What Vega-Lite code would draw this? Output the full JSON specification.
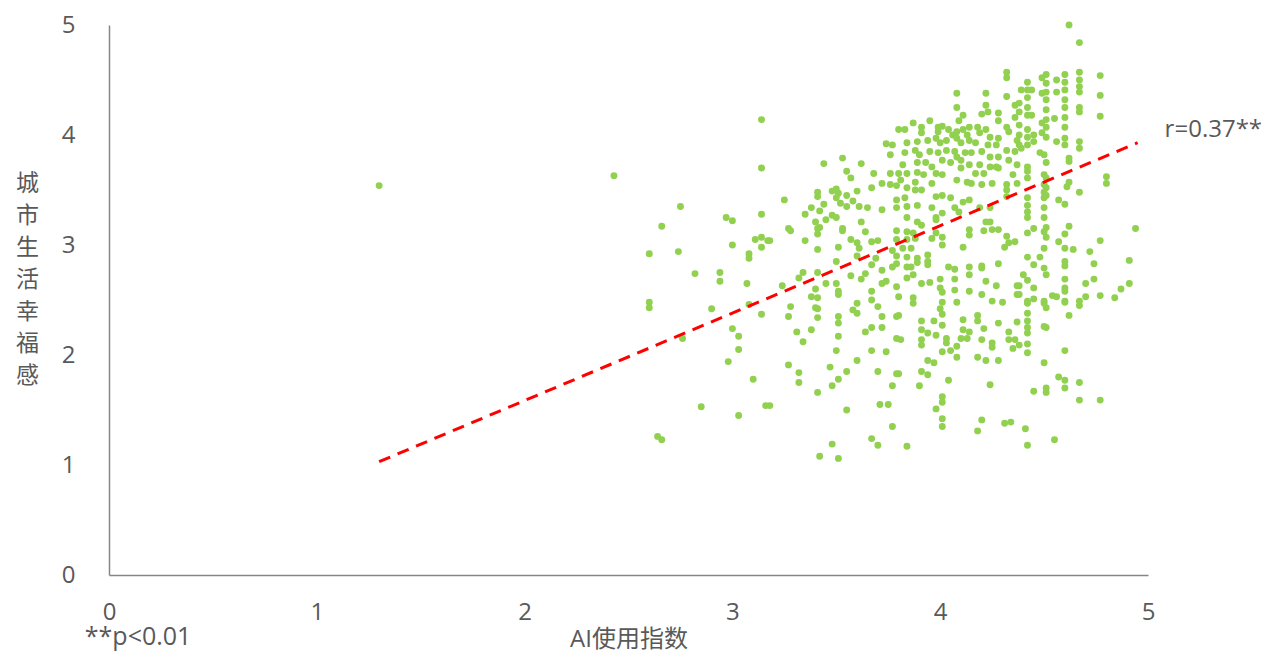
{
"$schema": "https://vega.github.io/schema/vega-lite/v6.json",
"width": 1039, "height": 550,
"autosize": "none",
"padding": {"left": 109, "top": 25, "right": 122, "bottom": 77},
"background": "white",
"config": {"view": {"stroke": null}, "font": "Open Sans, Noto Sans CJK SC"},
"datasets": {
"pts": [
{"ai":1.30,"hap":3.54},{"ai":2.43,"hap":3.63},{"ai":3.14,"hap":4.14},{"ai":3.14,"hap":3.70},{"ai":2.75,"hap":3.35},{"ai":2.66,"hap":3.17},{"ai":2.97,"hap":3.25},{"ai":3.00,"hap":3.22},{"ai":3.14,"hap":3.28},{"ai":2.60,"hap":2.92},{"ai":2.74,"hap":2.94},{"ai":3.00,"hap":3.00},{"ai":3.11,"hap":3.05},{"ai":3.14,"hap":3.07},{"ai":3.17,"hap":3.04},{"ai":3.14,"hap":2.98},{"ai":3.08,"hap":2.92},{"ai":3.08,"hap":2.88},{"ai":2.82,"hap":2.74},{"ai":2.94,"hap":2.75},{"ai":2.94,"hap":2.67},{"ai":3.07,"hap":2.65},{"ai":2.60,"hap":2.48},{"ai":2.60,"hap":2.43},{"ai":2.90,"hap":2.42},{"ai":3.08,"hap":2.46},{"ai":3.14,"hap":2.37},{"ai":3.00,"hap":2.24},{"ai":3.03,"hap":2.17},{"ai":2.76,"hap":2.15},{"ai":3.03,"hap":2.05},{"ai":2.98,"hap":1.94},{"ai":3.10,"hap":1.78},{"ai":2.85,"hap":1.53},{"ai":3.16,"hap":1.54},{"ai":3.03,"hap":1.45},{"ai":2.64,"hap":1.26},{"ai":2.66,"hap":1.23},
{"ai":3.80,"hap":4.05},{"ai":3.74,"hap":3.92},{"ai":3.77,"hap":3.91},{"ai":3.76,"hap":3.82},{"ai":3.53,"hap":3.79},{"ai":3.44,"hap":3.74},{"ai":3.62,"hap":3.74},{"ai":3.55,"hap":3.67},{"ai":3.68,"hap":3.65},{"ai":3.57,"hap":3.61},{"ai":3.76,"hap":3.65},{"ai":3.80,"hap":3.65},{"ai":3.72,"hap":3.56},{"ai":3.76,"hap":3.55},{"ai":3.79,"hap":3.54},{"ai":3.67,"hap":3.52},{"ai":3.60,"hap":3.49},{"ai":3.25,"hap":3.41},{"ai":3.41,"hap":3.48},{"ai":3.41,"hap":3.44},{"ai":3.48,"hap":3.49},{"ai":3.50,"hap":3.51},{"ai":3.51,"hap":3.47},{"ai":3.50,"hap":3.43},{"ai":3.55,"hap":3.45},{"ai":3.58,"hap":3.40},{"ai":3.52,"hap":3.38},{"ai":3.55,"hap":3.35},{"ai":3.61,"hap":3.35},{"ai":3.65,"hap":3.34},{"ai":3.72,"hap":3.32},{"ai":3.79,"hap":3.41},{"ai":3.79,"hap":3.34},{"ai":3.38,"hap":3.34},{"ai":3.35,"hap":3.28},{"ai":3.44,"hap":3.37},{"ai":3.42,"hap":3.31},{"ai":3.45,"hap":3.23},{"ai":3.48,"hap":3.27},{"ai":3.50,"hap":3.25},{"ai":3.40,"hap":3.21},{"ai":3.42,"hap":3.16},{"ai":3.27,"hap":3.15},{"ai":3.53,"hap":3.15},{"ai":3.62,"hap":3.21},
{"ai":3.28,"hap":3.13},{"ai":3.41,"hap":3.15},{"ai":3.41,"hap":3.10},{"ai":3.53,"hap":3.13},{"ai":3.64,"hap":3.12},{"ai":3.18,"hap":3.04},{"ai":3.35,"hap":3.04},{"ai":3.57,"hap":3.05},{"ai":3.60,"hap":3.02},{"ai":3.61,"hap":2.97},{"ai":3.67,"hap":3.03},{"ai":3.70,"hap":3.04},{"ai":3.79,"hap":3.13},{"ai":3.79,"hap":3.05},{"ai":3.41,"hap":2.96},{"ai":3.51,"hap":2.98},{"ai":3.60,"hap":2.90},{"ai":3.69,"hap":2.88},{"ai":3.77,"hap":2.95},{"ai":3.79,"hap":2.90},{"ai":3.50,"hap":2.85},{"ai":3.67,"hap":2.82},{"ai":3.77,"hap":2.80},{"ai":3.79,"hap":2.83},{"ai":3.72,"hap":2.77},{"ai":3.34,"hap":2.75},{"ai":3.32,"hap":2.70},{"ai":3.41,"hap":2.75},{"ai":3.57,"hap":2.72},{"ai":3.64,"hap":2.74},{"ai":3.62,"hap":2.69},{"ai":3.24,"hap":2.63},{"ai":3.45,"hap":2.65},{"ai":3.40,"hap":2.60},{"ai":3.50,"hap":2.65},{"ai":3.51,"hap":2.58},{"ai":3.51,"hap":2.55},{"ai":3.74,"hap":2.67},{"ai":3.72,"hap":2.65},{"ai":3.79,"hap":2.62},{"ai":3.67,"hap":2.58},{"ai":3.38,"hap":2.53},{"ai":3.41,"hap":2.52},{"ai":3.67,"hap":2.50},{"ai":3.28,"hap":2.44},{"ai":3.27,"hap":2.35},{"ai":3.40,"hap":2.43},{"ai":3.41,"hap":2.42},{"ai":3.60,"hap":2.47},{"ai":3.58,"hap":2.41},{"ai":3.60,"hap":2.38},{"ai":3.70,"hap":2.44},{"ai":3.41,"hap":2.34},{"ai":3.51,"hap":2.35},{"ai":3.51,"hap":2.29},{"ai":3.72,"hap":2.35},{"ai":3.79,"hap":2.35},{"ai":3.31,"hap":2.21},{"ai":3.38,"hap":2.23},{"ai":3.34,"hap":2.12},{"ai":3.51,"hap":2.17},{"ai":3.64,"hap":2.21},{"ai":3.67,"hap":2.25},{"ai":3.72,"hap":2.25},{"ai":3.79,"hap":2.15},{"ai":3.50,"hap":2.04},{"ai":3.67,"hap":2.04},{"ai":3.74,"hap":2.03},
{"ai":3.27,"hap":1.91},{"ai":3.32,"hap":1.84},{"ai":3.32,"hap":1.75},{"ai":3.47,"hap":1.89},{"ai":3.60,"hap":1.95},{"ai":3.55,"hap":1.85},{"ai":3.51,"hap":1.78},{"ai":3.48,"hap":1.72},{"ai":3.41,"hap":1.66},{"ai":3.70,"hap":1.85},{"ai":3.79,"hap":1.83},{"ai":3.77,"hap":1.72},{"ai":3.18,"hap":1.54},{"ai":3.55,"hap":1.50},{"ai":3.71,"hap":1.55},{"ai":3.75,"hap":1.55},{"ai":3.77,"hap":1.35},{"ai":3.48,"hap":1.19},{"ai":3.67,"hap":1.24},{"ai":3.70,"hap":1.18},{"ai":3.42,"hap":1.08},{"ai":3.51,"hap":1.06},
{"ai":4.08,"hap":4.38},{"ai":4.22,"hap":4.38},{"ai":4.32,"hap":4.35},{"ai":4.36,"hap":4.27},{"ai":4.08,"hap":4.25},{"ai":4.11,"hap":4.18},{"ai":4.09,"hap":4.13},{"ai":4.22,"hap":4.27},{"ai":4.23,"hap":4.21},{"ai":4.20,"hap":4.19},{"ai":4.28,"hap":4.20},{"ai":4.28,"hap":4.13},{"ai":4.32,"hap":4.07},{"ai":4.33,"hap":4.03},{"ai":4.36,"hap":4.16},{"ai":3.87,"hap":4.11},{"ai":3.95,"hap":4.13},{"ai":3.83,"hap":4.05},{"ai":3.91,"hap":4.07},{"ai":3.91,"hap":4.02},{"ai":3.99,"hap":4.07},{"ai":3.99,"hap":4.03},{"ai":4.01,"hap":4.08},{"ai":4.04,"hap":4.05},{"ai":4.06,"hap":4.00},{"ai":4.08,"hap":4.03},{"ai":4.11,"hap":4.05},{"ai":4.13,"hap":4.00},{"ai":4.14,"hap":4.07},{"ai":4.18,"hap":4.07},{"ai":4.19,"hap":4.02},{"ai":4.22,"hap":4.05},{"ai":4.24,"hap":3.98},{"ai":4.28,"hap":3.97},{"ai":4.37,"hap":3.95},{"ai":3.84,"hap":3.93},{"ai":3.89,"hap":3.94},{"ai":3.94,"hap":3.95},{"ai":3.98,"hap":3.97},{"ai":4.00,"hap":3.93},{"ai":4.03,"hap":3.95},{"ai":4.08,"hap":3.97},{"ai":4.10,"hap":3.93},{"ai":4.14,"hap":3.95},{"ai":4.17,"hap":3.93},{"ai":4.23,"hap":3.91},{"ai":4.27,"hap":3.91},{"ai":4.32,"hap":3.86},{"ai":4.36,"hap":3.85},{"ai":3.83,"hap":3.84},{"ai":3.88,"hap":3.86},{"ai":3.90,"hap":3.82},{"ai":3.95,"hap":3.85},{"ai":3.99,"hap":3.84},{"ai":4.03,"hap":3.86},{"ai":4.07,"hap":3.85},{"ai":4.08,"hap":3.80},{"ai":4.12,"hap":3.84},{"ai":4.15,"hap":3.84},{"ai":4.20,"hap":3.85},{"ai":4.24,"hap":3.80},{"ai":4.28,"hap":3.80},{"ai":4.33,"hap":3.77},{"ai":3.82,"hap":3.73},{"ai":3.89,"hap":3.75},{"ai":3.93,"hap":3.75},{"ai":3.96,"hap":3.71},{"ai":4.01,"hap":3.77},{"ai":4.05,"hap":3.75},{"ai":4.10,"hap":3.77},{"ai":4.14,"hap":3.73},{"ai":4.19,"hap":3.73},{"ai":4.24,"hap":3.71},{"ai":4.28,"hap":3.70},{"ai":3.84,"hap":3.65},{"ai":3.89,"hap":3.66},{"ai":3.92,"hap":3.64},{"ai":3.98,"hap":3.65},{"ai":4.01,"hap":3.64},{"ai":4.10,"hap":3.70},{"ai":4.17,"hap":3.65},{"ai":4.21,"hap":3.65},{"ai":4.27,"hap":3.71},{"ai":4.35,"hap":3.64},{"ai":3.81,"hap":3.59},{"ai":3.88,"hap":3.57},{"ai":3.96,"hap":3.56},{"ai":4.08,"hap":3.59},{"ai":4.13,"hap":3.57},{"ai":4.15,"hap":3.56},{"ai":4.20,"hap":3.55},{"ai":4.25,"hap":3.56},{"ai":4.32,"hap":3.50},{"ai":4.32,"hap":3.55},{"ai":3.84,"hap":3.52},{"ai":3.88,"hap":3.50},{"ai":3.91,"hap":3.50},{"ai":3.98,"hap":3.44},{"ai":4.01,"hap":3.45},{"ai":4.05,"hap":3.43},{"ai":4.11,"hap":3.39},{"ai":4.14,"hap":3.41},{"ai":3.83,"hap":3.43},{"ai":3.84,"hap":3.35},{"ai":3.89,"hap":3.36},{"ai":3.96,"hap":3.34},{"ai":4.07,"hap":3.34},{"ai":4.09,"hap":3.30},{"ai":4.19,"hap":3.34},{"ai":4.24,"hap":3.34},{"ai":4.32,"hap":3.44},{"ai":3.98,"hap":3.25},{"ai":4.01,"hap":3.29},{"ai":4.32,"hap":4.57},{"ai":4.32,"hap":4.52},
{"ai":3.84,"hap":3.25},{"ai":3.89,"hap":3.21},{"ai":3.98,"hap":3.23},{"ai":3.91,"hap":3.18},{"ai":3.84,"hap":3.12},{"ai":3.87,"hap":3.11},{"ai":3.84,"hap":3.05},{"ai":3.88,"hap":3.06},{"ai":3.82,"hap":2.97},{"ai":3.86,"hap":2.97},{"ai":3.84,"hap":2.89},{"ai":3.89,"hap":2.88},{"ai":3.86,"hap":2.80},{"ai":3.89,"hap":2.84},{"ai":3.84,"hap":2.80},{"ai":3.94,"hap":2.91},{"ai":3.94,"hap":2.85},{"ai":3.94,"hap":2.82},{"ai":3.96,"hap":3.06},{"ai":3.98,"hap":3.11},{"ai":4.01,"hap":3.07},{"ai":4.01,"hap":3.00},{"ai":4.11,"hap":2.98},{"ai":4.14,"hap":3.14},{"ai":4.14,"hap":3.09},{"ai":4.22,"hap":3.21},{"ai":4.24,"hap":3.21},{"ai":4.21,"hap":3.13},{"ai":4.25,"hap":3.14},{"ai":4.28,"hap":3.14},{"ai":4.32,"hap":3.08},{"ai":4.33,"hap":3.02},{"ai":4.31,"hap":2.98},{"ai":4.04,"hap":2.80},{"ai":4.07,"hap":2.78},{"ai":4.14,"hap":2.80},{"ai":4.14,"hap":2.73},{"ai":4.20,"hap":2.81},{"ai":4.20,"hap":2.79},{"ai":4.28,"hap":2.83},{"ai":3.84,"hap":2.70},{"ai":3.87,"hap":2.73},{"ai":3.91,"hap":2.65},{"ai":3.95,"hap":2.66},{"ai":4.00,"hap":2.69},{"ai":4.00,"hap":2.61},{"ai":4.07,"hap":2.69},{"ai":4.07,"hap":2.59},{"ai":4.01,"hap":2.57},{"ai":4.14,"hap":2.58},{"ai":4.22,"hap":2.67},{"ai":4.27,"hap":2.63},{"ai":4.37,"hap":2.63},{"ai":3.80,"hap":2.53},{"ai":3.87,"hap":2.52},{"ai":3.87,"hap":2.47},{"ai":4.01,"hap":2.48},{"ai":4.08,"hap":2.48},{"ai":4.20,"hap":2.55},{"ai":4.25,"hap":2.49},{"ai":4.30,"hap":2.48},{"ai":4.37,"hap":2.55},{"ai":3.80,"hap":2.36},{"ai":4.00,"hap":2.42},{"ai":4.01,"hap":2.37},{"ai":4.18,"hap":2.36},{"ai":4.18,"hap":2.31},{"ai":4.11,"hap":2.32},{"ai":3.91,"hap":2.31},{"ai":3.97,"hap":2.31},{"ai":4.01,"hap":2.27},{"ai":4.28,"hap":2.29},{"ai":4.37,"hap":2.30},{"ai":3.91,"hap":2.23},{"ai":3.94,"hap":2.20},{"ai":3.98,"hap":2.18},{"ai":4.11,"hap":2.23},{"ai":4.14,"hap":2.21},{"ai":4.21,"hap":2.24},{"ai":4.33,"hap":2.21},{"ai":4.03,"hap":2.15},{"ai":4.10,"hap":2.15},{"ai":4.13,"hap":2.15},{"ai":4.20,"hap":2.14},{"ai":4.25,"hap":2.11},{"ai":3.91,"hap":2.14},{"ai":4.33,"hap":2.14},{"ai":3.81,"hap":2.14},
{"ai":3.91,"hap":2.09},{"ai":4.03,"hap":2.11},{"ai":4.08,"hap":2.08},{"ai":4.01,"hap":2.03},{"ai":4.05,"hap":2.04},{"ai":4.08,"hap":1.98},{"ai":4.18,"hap":1.98},{"ai":4.22,"hap":1.95},{"ai":4.25,"hap":2.07},{"ai":4.28,"hap":1.95},{"ai":4.35,"hap":2.06},{"ai":3.94,"hap":1.95},{"ai":3.97,"hap":1.93},{"ai":3.80,"hap":1.83},{"ai":3.91,"hap":1.85},{"ai":3.94,"hap":1.82},{"ai":3.90,"hap":1.72},{"ai":4.04,"hap":1.77},{"ai":4.24,"hap":1.73},{"ai":4.01,"hap":1.62},{"ai":4.01,"hap":1.57},{"ai":3.98,"hap":1.51},{"ai":4.01,"hap":1.42},{"ai":4.01,"hap":1.35},{"ai":4.20,"hap":1.41},{"ai":4.18,"hap":1.31},{"ai":4.31,"hap":1.38},{"ai":4.34,"hap":1.39},{"ai":3.84,"hap":1.17},
{"ai":4.62,"hap":5.00},{"ai":4.67,"hap":4.84},{"ai":4.77,"hap":4.54},{"ai":4.77,"hap":4.36},{"ai":4.77,"hap":4.17},{"ai":4.67,"hap":4.57},{"ai":4.67,"hap":4.50},{"ai":4.67,"hap":4.44},{"ai":4.67,"hap":4.39},{"ai":4.67,"hap":4.25},{"ai":4.67,"hap":4.21},{"ai":4.60,"hap":4.55},{"ai":4.60,"hap":4.48},{"ai":4.60,"hap":4.41},{"ai":4.60,"hap":4.32},{"ai":4.60,"hap":4.25},{"ai":4.60,"hap":4.16},{"ai":4.60,"hap":4.07},{"ai":4.60,"hap":3.97},{"ai":4.60,"hap":3.91},{"ai":4.56,"hap":4.50},{"ai":4.56,"hap":4.39},{"ai":4.56,"hap":3.94},{"ai":4.51,"hap":4.55},{"ai":4.51,"hap":4.47},{"ai":4.51,"hap":4.39},{"ai":4.51,"hap":4.32},{"ai":4.51,"hap":4.23},{"ai":4.51,"hap":4.14},{"ai":4.51,"hap":4.07},{"ai":4.51,"hap":3.98},{"ai":4.49,"hap":4.52},{"ai":4.49,"hap":4.38},{"ai":4.49,"hap":4.11},{"ai":4.49,"hap":4.02},{"ai":4.55,"hap":4.15},{"ai":4.42,"hap":4.48},{"ai":4.42,"hap":4.41},{"ai":4.39,"hap":4.41},{"ai":4.44,"hap":4.41},{"ai":4.42,"hap":4.34},{"ai":4.42,"hap":4.25},{"ai":4.42,"hap":4.18},{"ai":4.44,"hap":4.18},{"ai":4.38,"hap":4.29},{"ai":4.38,"hap":4.21},{"ai":4.38,"hap":4.09},{"ai":4.38,"hap":4.00},{"ai":4.38,"hap":3.91},{"ai":4.42,"hap":4.05},{"ai":4.42,"hap":3.98},{"ai":4.45,"hap":4.00},{"ai":4.45,"hap":3.94},{"ai":4.42,"hap":3.91},{"ai":4.39,"hap":3.88},{"ai":4.67,"hap":3.94},{"ai":4.67,"hap":3.88},{"ai":4.62,"hap":3.79},{"ai":4.48,"hap":3.84},
{"ai":4.50,"hap":3.82},{"ai":4.37,"hap":3.73},{"ai":4.42,"hap":3.71},{"ai":4.42,"hap":3.67},{"ai":4.42,"hap":3.61},{"ai":4.37,"hap":3.56},{"ai":4.51,"hap":3.75},{"ai":4.62,"hap":3.76},{"ai":4.50,"hap":3.64},{"ai":4.51,"hap":3.61},{"ai":4.50,"hap":3.55},{"ai":4.51,"hap":3.52},{"ai":4.50,"hap":3.48},{"ai":4.51,"hap":3.45},{"ai":4.50,"hap":3.43},{"ai":4.42,"hap":3.43},{"ai":4.42,"hap":3.36},{"ai":4.42,"hap":3.30},{"ai":4.42,"hap":3.25},{"ai":4.57,"hap":3.41},{"ai":4.60,"hap":3.37},{"ai":4.61,"hap":3.53},{"ai":4.62,"hap":3.57},{"ai":4.67,"hap":3.48},{"ai":4.80,"hap":3.62},{"ai":4.80,"hap":3.56},{"ai":4.50,"hap":3.34},{"ai":4.50,"hap":3.25},{"ai":4.51,"hap":3.16},{"ai":4.62,"hap":3.17},{"ai":4.45,"hap":3.15},{"ai":4.42,"hap":3.11},{"ai":4.50,"hap":3.12},{"ai":4.51,"hap":3.07},{"ai":4.60,"hap":3.10},{"ai":4.57,"hap":3.03},{"ai":4.50,"hap":2.97},{"ai":4.60,"hap":2.97},{"ai":4.64,"hap":2.96},{"ai":4.77,"hap":3.04},{"ai":4.94,"hap":3.15},{"ai":4.36,"hap":3.03},{"ai":4.72,"hap":2.94},{"ai":4.42,"hap":2.89},{"ai":4.48,"hap":2.89},{"ai":4.45,"hap":2.82},{"ai":4.50,"hap":2.79},{"ai":4.51,"hap":2.73},{"ai":4.60,"hap":2.85},{"ai":4.60,"hap":2.81},{"ai":4.74,"hap":2.83},{"ai":4.91,"hap":2.86},{"ai":4.40,"hap":2.73},{"ai":4.42,"hap":2.68},{"ai":4.60,"hap":2.69},{"ai":4.70,"hap":2.65},{"ai":4.74,"hap":2.69},{"ai":4.60,"hap":2.61},{"ai":4.60,"hap":2.58},{"ai":4.91,"hap":2.65},{"ai":4.87,"hap":2.60},{"ai":4.38,"hap":2.63},{"ai":4.38,"hap":2.55},{"ai":4.45,"hap":2.61},{"ai":4.42,"hap":2.49},{"ai":4.45,"hap":2.51},{"ai":4.50,"hap":2.49},{"ai":4.54,"hap":2.54},{"ai":4.56,"hap":2.53},{"ai":4.60,"hap":2.49},{"ai":4.67,"hap":2.49},{"ai":4.70,"hap":2.53},{"ai":4.77,"hap":2.54},{"ai":4.84,"hap":2.52},
{"ai":4.42,"hap":2.47},{"ai":4.50,"hap":2.47},{"ai":4.51,"hap":2.43},{"ai":4.60,"hap":2.48},{"ai":4.67,"hap":2.45},{"ai":4.42,"hap":2.38},{"ai":4.62,"hap":2.36},{"ai":4.42,"hap":2.31},{"ai":4.42,"hap":2.25},{"ai":4.42,"hap":2.20},{"ai":4.50,"hap":2.26},{"ai":4.51,"hap":2.25},{"ai":4.36,"hap":2.14},{"ai":4.38,"hap":2.09},{"ai":4.42,"hap":2.10},{"ai":4.42,"hap":2.02},{"ai":4.60,"hap":2.04},{"ai":4.50,"hap":1.93},{"ai":4.57,"hap":1.80},{"ai":4.60,"hap":1.77},{"ai":4.60,"hap":1.70},{"ai":4.67,"hap":1.75},{"ai":4.45,"hap":1.67},{"ai":4.51,"hap":1.70},{"ai":4.51,"hap":1.66},{"ai":4.67,"hap":1.59},{"ai":4.77,"hap":1.59},{"ai":4.41,"hap":1.33},{"ai":4.42,"hap":1.18},{"ai":4.55,"hap":1.23}
],
"trend": [{"ai":1.30,"hap":1.03},{"ai":4.95,"hap":3.93}],
"notes": [{"ai":5.08,"hap":4.05,"label":"r=0.37**"}],
"foot": [{"ai":0.14,"hap":-0.565,"label":"**p<0.01"}]
},
"layer": [
{
"data": {"name": "pts"},
"mark": {"type": "circle", "size": 48, "opacity": 1, "color": "#92D050"},
"encoding": {
"x": {"field": "ai", "type": "quantitative",
"scale": {"domain": [0, 5], "nice": false, "zero": false},
"axis": {"values": [0,1,2,3,4,5], "format": "d", "grid": false, "ticks": false, "domainColor": "#868686", "domainWidth": 1.5,
"labelFontSize": 24, "labelColor": "#595959", "labelPadding": 25, "labelFlush": false,
"title": "AI使用指数", "titleFontSize": 24, "titleFontWeight": "normal", "titleColor": "#595959", "titlePadding": 3}},
"y": {"field": "hap", "type": "quantitative",
"scale": {"domain": [0, 5], "nice": false, "zero": false},
"axis": {"values": [0,1,2,3,4,5], "format": "d", "grid": false, "ticks": false, "domainColor": "#868686", "domainWidth": 1.5,
"labelFontSize": 24, "labelColor": "#595959", "labelPadding": 34, "labelFlush": false,
"title": ["城","市","生","活","幸","福","感"], "titleAngle": 0, "titleFontSize": 23, "titleFontWeight": "normal",
"titleFont": "Noto Sans CJK SC", "titleColor": "#595959", "titleLineHeight": 32,
"titleX": -82, "titleY": 147, "titleAlign": "center", "titleBaseline": "top"}}
}
},
{
"data": {"name": "trend"},
"mark": {"type": "line", "color": "#FF0000", "strokeWidth": 3, "strokeDash": [12, 8]},
"encoding": {
"x": {"field": "ai", "type": "quantitative"},
"y": {"field": "hap", "type": "quantitative"}
}
},
{
"data": {"name": "notes"},
"mark": {"type": "text", "align": "left", "baseline": "middle", "fontSize": 24, "color": "#595959"},
"encoding": {
"x": {"field": "ai", "type": "quantitative"},
"y": {"field": "hap", "type": "quantitative"},
"text": {"field": "label"}
}
},
{
"data": {"name": "foot"},
"mark": {"type": "text", "align": "center", "baseline": "middle", "fontSize": 25, "color": "#595959"},
"encoding": {
"x": {"field": "ai", "type": "quantitative"},
"y": {"field": "hap", "type": "quantitative"},
"text": {"field": "label"}
}
}
]
}
